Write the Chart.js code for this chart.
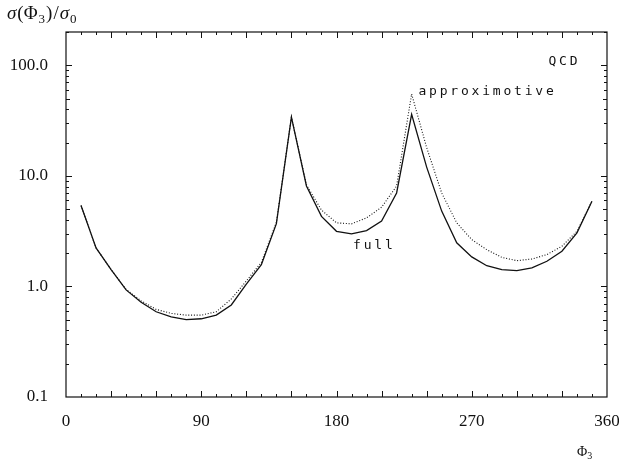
<!DOCTYPE html>
<html><head><meta charset="utf-8">
<script src="https://cdn.jsdelivr.net/npm/chart.js@4/dist/chart.umd.min.js"></script>
<style>html,body{margin:0;padding:0;background:#fff}#wrap{width:619px;height:464px}</style>
</head><body><div id="wrap"><canvas id="c" width="619" height="464"></canvas></div>
<script>
// ---- data ----
const phi3 = [10,20,30,40,50,60,70,80,90,100,110,120,130,140,150,160,170,180,190,200,210,220,230,240,250,260,270,280,290,300,310,320,330,340,350];
const fullValues = [5.4,2.23,1.42,0.93,0.72,0.59,0.53,0.50,0.51,0.55,0.68,1.05,1.57,3.7,34,8.1,4.3,3.15,2.99,3.2,3.9,7.0,36,12,4.8,2.48,1.85,1.54,1.42,1.39,1.47,1.69,2.08,3.05,5.9];
const approxValues = [5.4,2.23,1.42,0.94,0.74,0.62,0.57,0.55,0.55,0.59,0.77,1.12,1.65,3.8,34,8.3,4.9,3.76,3.68,4.17,5.2,8.1,55,18,7.0,3.76,2.65,2.15,1.83,1.71,1.77,1.94,2.31,3.15,5.9];
const xTickValues = [0,90,180,270,360];
const yTickValues = [0.1,1,10,100];
const seriesNames = ['full','approximotive'];

// annotations (data coordinates)
const notes = [
  {text:'QCD', x:321, y:109},
  {text:'approximotive', x:234.5, y:58},
  {text:'full', x:191, y:2.34}
];

const INK = '#111';
const serif = '"Liberation Serif", "DejaVu Serif", serif';
const mono = '"DejaVu Sans Mono", "Liberation Mono", monospace';

const pts = (vals) => phi3.map((p,i)=>({x:p, y:vals[i]}));

const framePlugin = {
  id:'frame',
  afterDatasetsDraw(chart){
    const {ctx, chartArea:a, scales:{x, y}} = chart;
    ctx.save();
    ctx.strokeStyle = INK;
    ctx.lineWidth = 1.2;
    ctx.strokeRect(a.left, a.top, a.right-a.left, a.bottom-a.top);
    ctx.lineWidth = 1;
    ctx.beginPath();
    for (let v=10; v<360; v+=10){
      const px = Math.round(x.getPixelForValue(v))+0.5;
      const L = (v%30===0)?6:3;
      ctx.moveTo(px, a.bottom); ctx.lineTo(px, a.bottom-L);
      ctx.moveTo(px, a.top); ctx.lineTo(px, a.top+L);
    }
    for (let d=-1; d<=2; d++){
      for (let m=1; m<=9; m++){
        const v = m*Math.pow(10,d);
        if (v<=0.1 || v>200) continue;
        const py = Math.round(y.getPixelForValue(v))+0.5;
        const L = (m===1)?6:(m===5?4:3);
        ctx.moveTo(a.left, py); ctx.lineTo(a.left+L, py);
        ctx.moveTo(a.right, py); ctx.lineTo(a.right-L, py);
      }
    }
    ctx.stroke();

    ctx.fillStyle = INK;
    ctx.font = '13px ' + mono;
    ctx.textBaseline = 'middle';
    ctx.textAlign = 'left';
    const spacing = 2.8;
    notes.forEach(n=>{
      let cx = x.getPixelForValue(n.x);
      const cy = y.getPixelForValue(n.y);
      for (const ch of n.text){
        ctx.fillText(ch, cx, cy);
        cx += ctx.measureText(ch).width + spacing;
      }
    });

    const parts = [
      {t:'σ', f:'italic 19px '+serif, dy:0},
      {t:'(Φ', f:'19px '+serif, dy:0},
      {t:'3', f:'13px '+serif, dy:4},
      {t:')', f:'19px '+serif, dy:0},
      {t:'/', f:'19px '+serif, dy:0},
      {t:'σ', f:'italic 19px '+serif, dy:0},
      {t:'0', f:'13px '+serif, dy:4}
    ];
    ctx.textBaseline = 'alphabetic';
    let tx = 7; const ty = 19;
    parts.forEach(p=>{ ctx.font=p.f; ctx.fillText(p.t, tx, ty+p.dy); tx += ctx.measureText(p.t).width + 1; });

    tx = 577; const by = 456;
    ctx.font = '14px '+serif; ctx.fillText('Φ', tx, by); tx += ctx.measureText('Φ').width;
    ctx.font = '10px '+serif; ctx.fillText('3', tx, by+3);
    ctx.restore();
  }
};

new Chart(document.getElementById('c'), {
  type:'line',
  data:{
    datasets:[
      {label:seriesNames[0], data:pts(fullValues), borderColor:INK, borderWidth:1.3, pointRadius:0, tension:0, fill:false},
      {label:seriesNames[1], data:pts(approxValues), borderColor:INK, borderWidth:1.1, borderDash:[1,1.8], pointRadius:0, tension:0, fill:false}
    ]
  },
  options:{
    responsive:false,
    animation:false,
    devicePixelRatio:1,
    layout:{padding:{top:32, right:12, bottom:0, left:0}},
    plugins:{legend:{display:false}, tooltip:{enabled:false}},
    scales:{
      x:{
        type:'linear', min:0, max:360,
        grid:{display:false, drawTicks:false}, border:{display:false},
        afterBuildTicks:(s)=>{ s.ticks = xTickValues.map(v=>({value:v})); },
        ticks:{color:INK, font:{family:serif, size:17}, padding:14, maxRotation:0, autoSkip:false, callback:(v)=>String(v)},
        afterFit:(s)=>{ s.height = 67; s.paddingLeft = 0; s.paddingRight = 0; }
      },
      y:{
        type:'logarithmic', min:0.1, max:200,
        grid:{display:false, drawTicks:false}, border:{display:false},
        afterBuildTicks:(s)=>{ s.ticks = yTickValues.map(v=>({value:v})); },
        ticks:{color:INK, font:{family:serif, size:17}, padding:18, autoSkip:false, callback:(v)=>Number(v).toFixed(1)},
        afterFit:(s)=>{ s.width = 66; s.paddingTop = 0; s.paddingBottom = 0; }
      }
    }
  },
  plugins:[framePlugin]
});
</script>
</body></html>
